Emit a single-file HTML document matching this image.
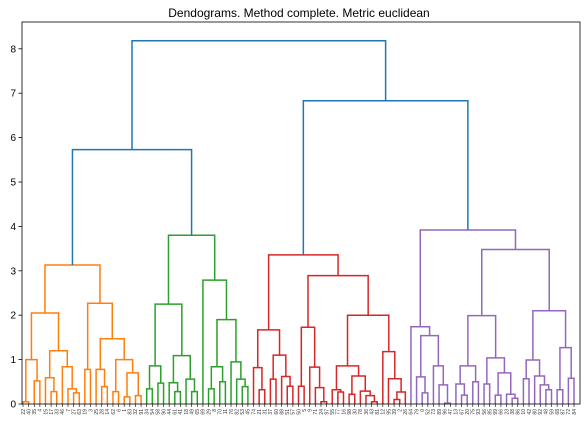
<!DOCTYPE html>
<html><head><meta charset="utf-8"><style>
body{margin:0;background:#fff;font-family:"Liberation Sans",sans-serif;}
svg text{font-family:"Liberation Sans",sans-serif;}
</style></head><body>
<svg id="chart" width="585" height="424" xmlns="http://www.w3.org/2000/svg">
<text x="299" y="17" text-anchor="middle" font-size="12" fill="#000">Dendograms. Method complete. Metric euclidean</text>
<g id="links"></g>
<g id="axes"></g>
</svg>
<script>
// Cluster subtrees: node = [height, left, right], leaf = 0
const orangeTree = [3.13,
  [2.05, [1.0,[0.05,0,0],[0.52,0,0]], [1.2,[0.59,0,[0.28,0,0]],[0.84,0,[0.34,0,[0.25,0,0]]]]],
  [2.27, [0.78,0,0], [1.47,[0.78,0,[0.39,0,0]],[1.0,[0.28,0,0],[0.7,[0.16,0,0],[0.19,0,0]]]]]];
const greenTree = [3.8,
  [2.25, [0.86,[0.34,0,0],[0.47,0,0]], [1.09,[0.48,0,[0.28,0,0]],[0.56,0,[0.28,0,0]]]],
  [2.79, 0, [1.9,[0.84,[0.34,0,0],[0.5,0,0]],[0.95,0,[0.56,0,[0.39,0,0]]]]]];
const redTree = [3.36,
  [1.67, [0.82,0,[0.32,0,0]], [1.1,[0.56,0,0],[0.62,0,[0.4,0,0]]]],
  [2.89, [1.73,[0.4,0,0],[0.83,0,[0.37,0,[0.05,0,0]]]],
    [2.0, [0.86,[0.32,0,[0.27,0,0]],[0.63,[0.22,0,0],[0.29,0,[0.19,0,[0.05,0,0]]]]],
          [1.18,0,[0.57,0,[0.27,[0.1,0,0],0]]]]]];
const purpleTree = [3.92,
  [1.74, 0, [1.54,[0.61,0,[0.25,0,0]],[0.86,0,[0.43,0,[0.02,0,0]]]]],
  [3.48, [1.99,[0.86,[0.45,0,[0.2,0,0]],[0.5,0,0]],[1.04,[0.45,0,0],[0.7,[0.2,0,0],[0.22,0,[0.13,0,0]]]]],
         [2.1,[0.99,[0.57,0,0],[0.63,0,[0.43,0,[0.32,0,0]]]],[1.27,[0.32,0,0],[0.58,0,0]]]]];
const topHeights = [8.18, 5.73, 6.83];
const clusterColors = ["#ff7f0e","#2ca02c","#d62728","#9467bd"];
const yTicks = [0,1,2,3,4,5,6,7,8];
const leafLabels = [22,40,35,4,15,17,33,46,7,27,63,19,3,25,28,14,62,6,1,83,32,91,34,54,58,90,44,61,41,18,49,65,69,29,8,70,11,76,82,53,45,74,21,31,37,60,88,51,57,50,5,9,71,24,97,55,77,16,98,30,78,36,43,81,12,95,39,2,26,64,79,0,52,73,89,96,47,13,67,20,75,93,56,85,99,66,23,38,86,10,42,80,92,48,59,68,87,72,84];

const NS="http://www.w3.org/2000/svg";
const X0=22,X1=580,Y0=404,Y1=22;
const LEAF_FIRST=23,LEAF_LAST=574;
function countLeaves(t){return t===0?1:countLeaves(t[1])+countLeaves(t[2]);}
const N=countLeaves(orangeTree)+countLeaves(greenTree)+countLeaves(redTree)+countLeaves(purpleTree);
function xs(i){return LEAF_FIRST+i*(LEAF_LAST-LEAF_FIRST)/(N-1);}
function ys(v){return Y0-v*44.4;}
const links=document.getElementById('links');
let leafIdx=0;const leafX=[];
function link(xl,hl,xr,hr,h,color){
  const p=document.createElementNS(NS,'polyline');
  p.setAttribute('points',`${xl},${ys(hl)} ${xl},${ys(h)} ${xr},${ys(h)} ${xr},${ys(hr)}`);
  p.setAttribute('fill','none');p.setAttribute('stroke',color);p.setAttribute('stroke-width','1.5');
  
  
  links.appendChild(p);
}
function draw(t,color){
  if(t===0){const x=xs(leafIdx);leafX.push(x);leafIdx++;return [x,0];}
  const a=draw(t[1],color),b=draw(t[2],color);
  link(a[0],a[1],b[0],b[1],t[0],color);
  return [(a[0]+b[0])/2,t[0]];
}
const o=draw(orangeTree,clusterColors[0]);
const g=draw(greenTree,clusterColors[1]);
const r=draw(redTree,clusterColors[2]);
const p=draw(purpleTree,clusterColors[3]);
const blue="#1f77b4";
link(o[0],o[1],g[0],g[1],topHeights[1],blue);
link(r[0],r[1],p[0],p[1],topHeights[2],blue);
link((o[0]+g[0])/2,topHeights[1],(r[0]+p[0])/2,topHeights[2],topHeights[0],blue);

const ax=document.getElementById('axes');
const frame=document.createElementNS(NS,'rect');
frame.setAttribute('x',X0);frame.setAttribute('y',Y1);frame.setAttribute('width',X1-X0);frame.setAttribute('height',Y0-Y1);
frame.setAttribute('fill','none');frame.setAttribute('stroke','#000');frame.setAttribute('stroke-width','0.8');


ax.appendChild(frame);
yTicks.forEach(v=>{
  const l=document.createElementNS(NS,'line');
  l.setAttribute('x1',X0-3.5);l.setAttribute('x2',X0);l.setAttribute('y1',ys(v));l.setAttribute('y2',ys(v));
  l.setAttribute('stroke','#000');l.setAttribute('stroke-width','0.8');
  
  
  ax.appendChild(l);
  const t=document.createElementNS(NS,'text');
  t.setAttribute('x',X0-6);t.setAttribute('y',ys(v)+3.5);t.setAttribute('text-anchor','end');t.setAttribute('font-size','10');
  t.textContent=v;
  
  
  ax.appendChild(t);
});
leafX.forEach((x,i)=>{
  const l=document.createElementNS(NS,'line');
  l.setAttribute('x1',x);l.setAttribute('x2',x);l.setAttribute('y1',Y0);l.setAttribute('y2',Y0+3);
  l.setAttribute('stroke','#000');l.setAttribute('stroke-width','0.6');
  
  
  ax.appendChild(l);
  const t=document.createElementNS(NS,'text');
  t.setAttribute('x',x+1.8);t.setAttribute('y',Y0+5);t.setAttribute('font-size','5');t.setAttribute('fill','#333');
  t.setAttribute('text-anchor','end');
  t.setAttribute('transform',`rotate(-90 ${x+1.8} ${Y0+5})`);
  t.textContent=leafLabels[i%leafLabels.length];
  
  
  ax.appendChild(t);
});
</script>
</body></html>
